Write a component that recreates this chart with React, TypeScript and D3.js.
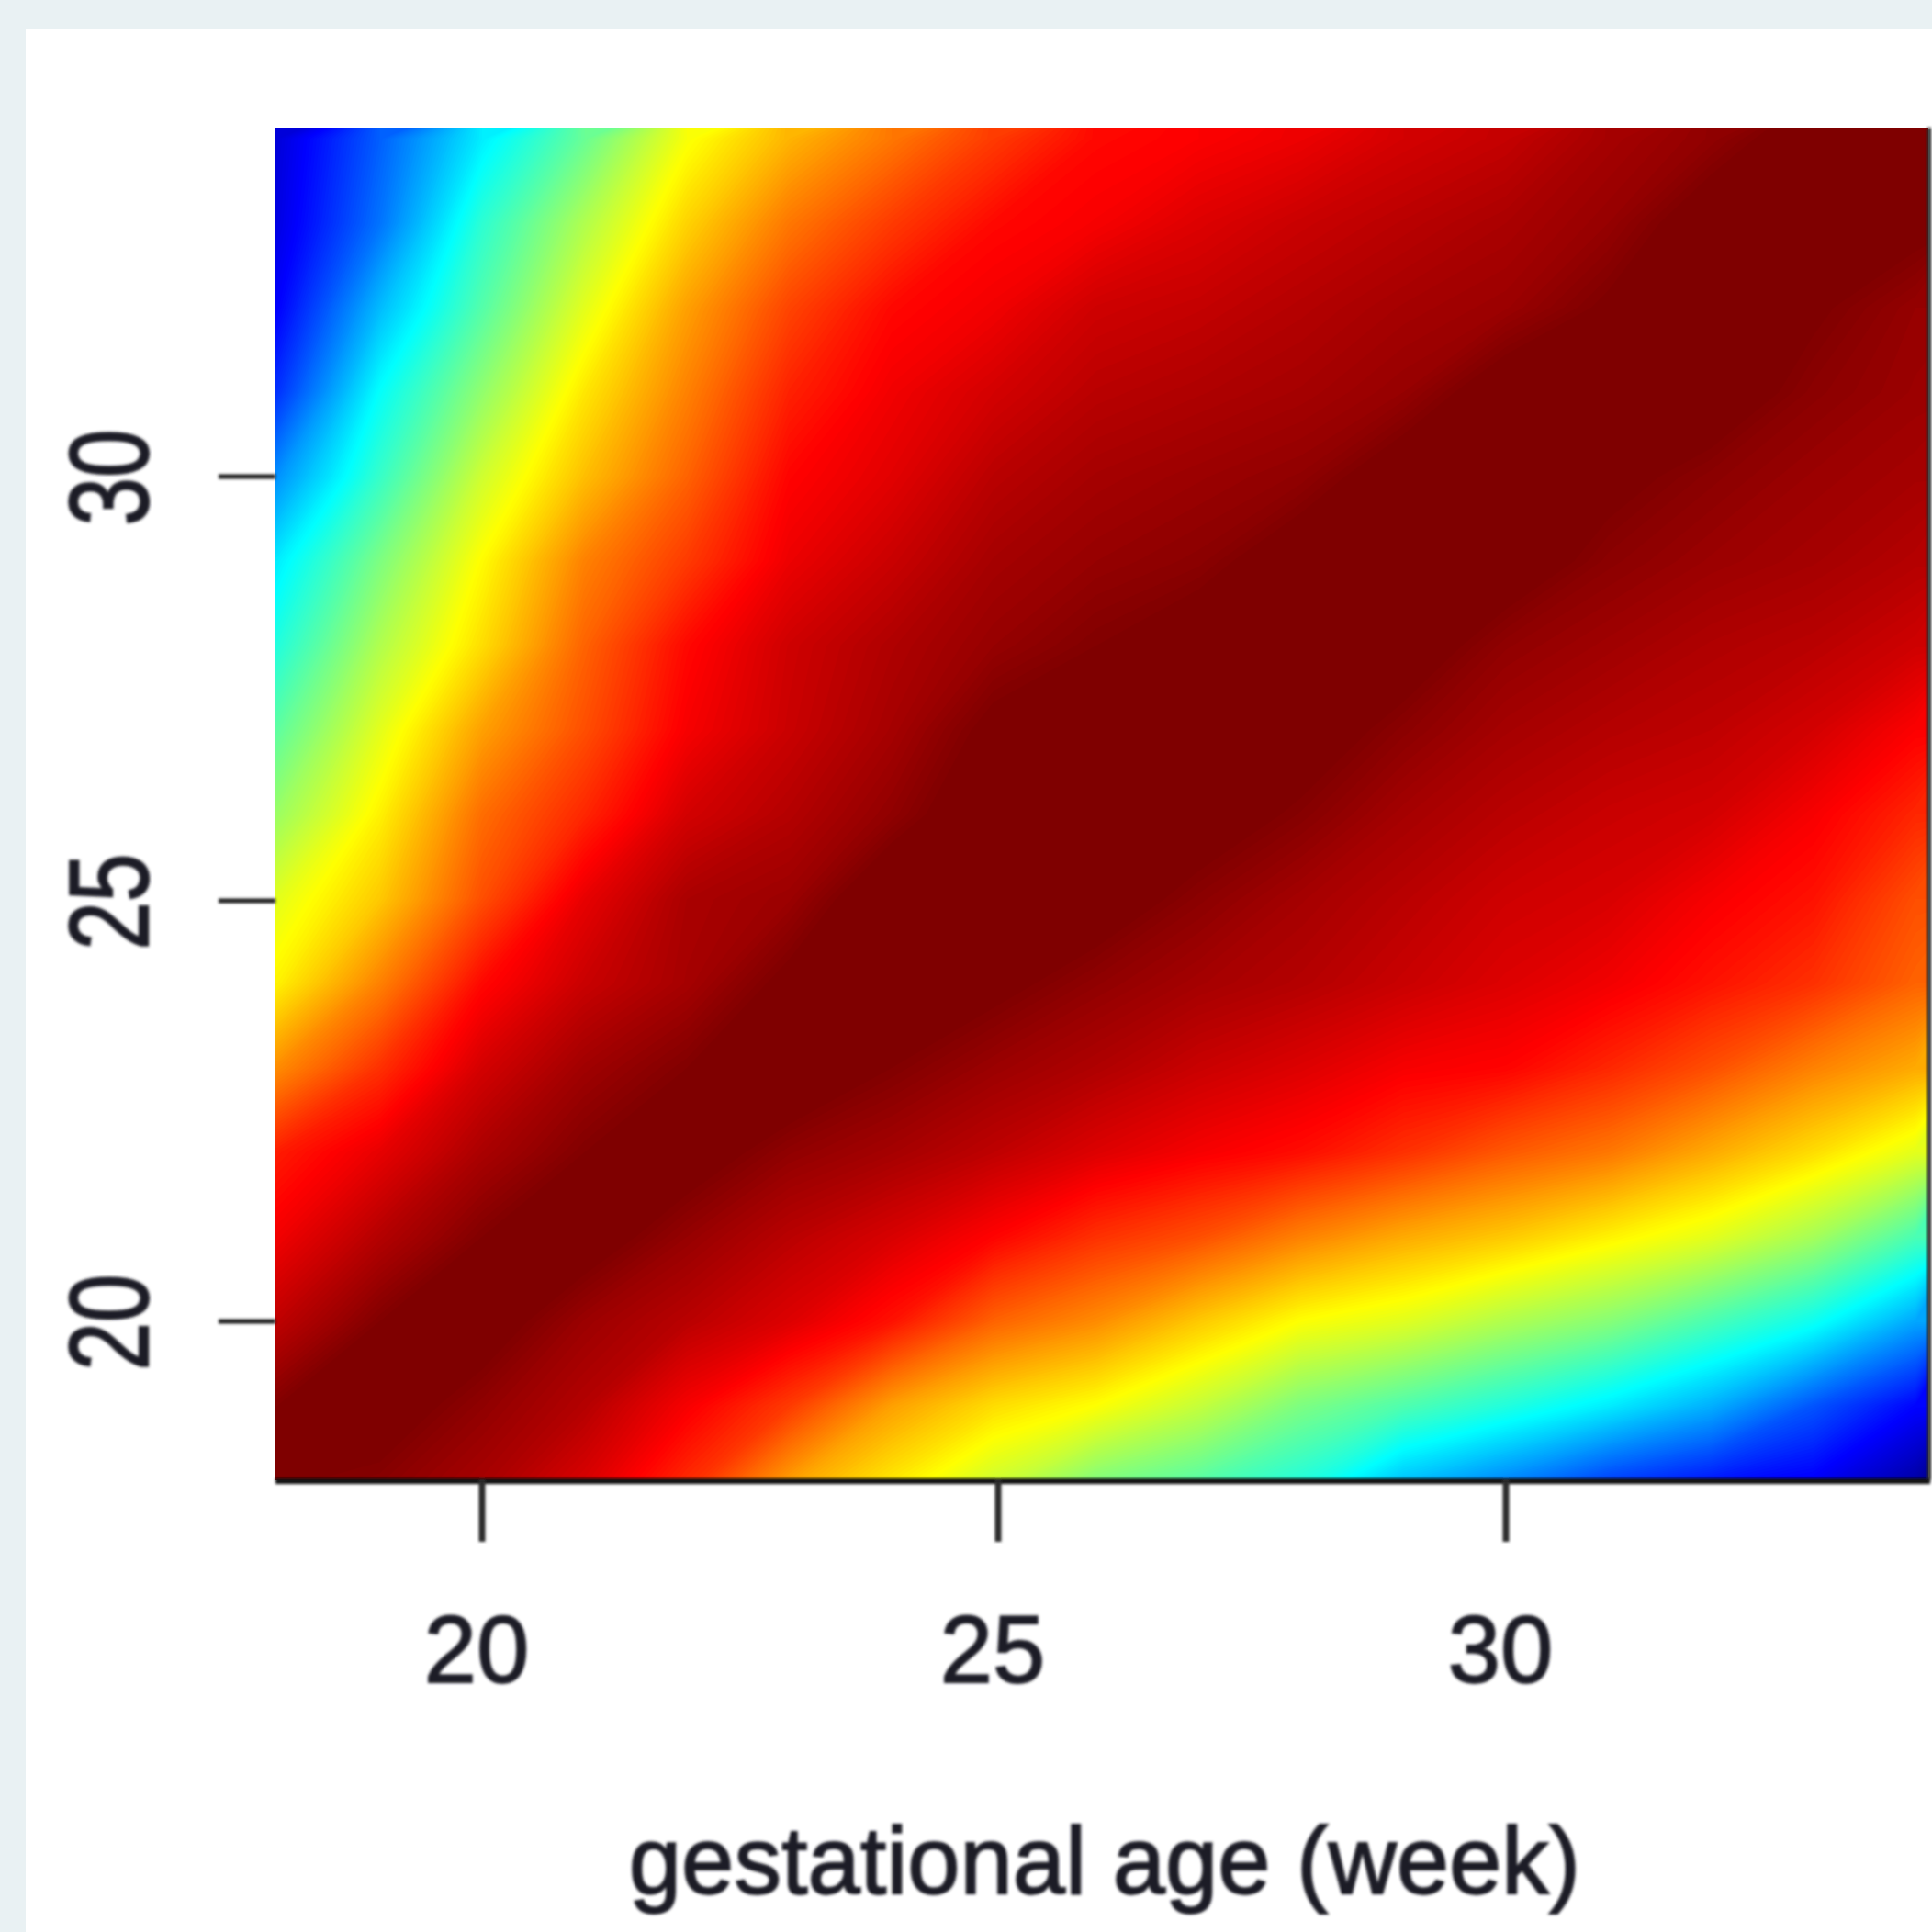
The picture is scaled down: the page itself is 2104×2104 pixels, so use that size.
import React from 'react';
import * as d3 from 'd3';

// values, as position on the colour ramp (0 = navy, 1 = dark red, above 1 stays dark red)
const weeks = [18, 19, 20, 21, 22, 23, 24, 25, 26, 27, 28, 29, 30, 31, 32, 33, 34];
const week34 = [.09, .22, .36, .48, .62, .70, .76, .82, .87, .88, .895, .92, .935, .965, .985, 1.02, 1.01];
const week33 = [.10, .24, .42, .55, .67, .76, .82, .87, .885, .91, .93, .945, .96, .98, 1.02, 1.02, 1.01];
const week32 = [.125, .31, .46, .60, .72, .81, .87, .89, .925, .935, .95, .965, .975, 1.005, 1.02, 1.005, .98];
const week31 = [.175, .38, .52, .65, .75, .845, .89, .92, .945, .955, .965, .98, 1.02, 1.02, 1.02, .99, .975];
const week30 = [.27, .43, .58, .69, .78, .875, .905, .945, .965, .975, .985, 1.02, 1.02, 1.01, .99, .975, .965];
const week29 = [.36, .50, .63, .75, .82, .895, .93, .965, .98, .99, 1.02, 1.02, 1.02, .99, .975, .965, .95];
const week28 = [.41, .55, .66, .78, .87, .925, .955, .98, 1.0, 1.02, 1.02, 1.02, .985, .97, .955, .945, .925];
const week27 = [.47, .60, .72, .80, .885, .93, .965, 1.01, 1.02, 1.02, 1.02, .99, .965, .95, .94, .92, .88];
const week26 = [.53, .64, .77, .84, .92, .95, .985, 1.03, 1.02, 1.02, .995, .965, .945, .93, .92, .885, .84];
const week25 = [.60, .68, .80, .90, .96, .975, 1.03, 1.03, 1.02, .99, .965, .945, .925, .915, .885, .86, .80];
const week24 = [.64, .75, .87, .93, .965, 1.01, 1.04, 1.01, .985, .965, .95, .93, .91, .89, .86, .83, .78];
const week23 = [.74, .83, .92, .97, 1.0, 1.03, 1.0, .975, .955, .93, .91, .885, .875, .84, .80, .75, .71];
const week22 = [.85, .90, .96, 1.0, 1.02, .985, .965, .94, .91, .885, .865, .83, .79, .76, .71, .66, .60];
const week21 = [.89, .95, 1.0, 1.02, .98, .945, .915, .875, .83, .80, .75, .71, .68, .64, .60, .54, .45];
const week20 = [.94, 1.0, 1.02, .975, .945, .91, .86, .78, .74, .68, .625, .597, .55, .51, .45, .39, .29];
const week19 = [1.0, 1.02, .985, .95, .885, .82, .72, .66, .625, .57, .50, .455, .41, .36, .30, .21, .13];
const week18 = [1.0, .99, .96, .91, .83, .71, .64, .57, .49, .45, .40, .30, .24, .17, .13, .11, .03];

const tickValues = [20, 25, 30];
const xTitle = 'gestational age (week)';
const rampColors = ['#00007F', '#0000FF', '#007FFF', '#00FFFF', '#7FFF7F', '#FFFF00', '#FF7F00', '#FF0000', '#7F0000'];

const rows = [week34, week33, week32, week31, week30, week29, week28, week27, week26, week25,
  week24, week23, week22, week21, week20, week19, week18];

const plot = { left: 300, right: 2100, top: 139, bottom: 1612 };
const font = '"Liberation Sans", Arial, sans-serif';
const ink = '#1e1e26';

export default function App() {
  const x = d3.scaleLinear().domain([20, 30]).range([525, 1640]);
  const y = d3.scaleLinear().domain([20, 30]).range([1439, 519]);
  // the ticks in the picture are not quite evenly spaced
  const xTick = d3.scaleLinear().domain([20, 25, 30]).range([525, 1087, 1640]);
  const yTick = d3.scaleLinear().domain([20, 25, 30]).range([1439, 981, 519]);
  const jet = d3.scaleLinear<string>()
    .domain(d3.range(rampColors.length).map(i => i / (rampColors.length - 1)))
    .range(rampColors)
    .interpolate(d3.interpolateRgb);

  const n = weeks.length;
  const levels = d3.range(0, 1.0001, 0.004);
  const bands = d3.contours().size([n, n]).thresholds(levels)(rows.flat());

  // contour grid has its values at i + 0.5
  const project = d3.geoTransform({
    point(gx: number, gy: number) {
      this.stream.point(x(weeks[0] + gx - 0.5), y(weeks[n - 1] - (gy - 0.5)));
    },
  });
  const path = d3.geoPath(project);

  return (
    <svg width={2104} height={2104} style={{ position: 'absolute', left: 0, top: 0, display: 'block' }}>
      <defs>
        <clipPath id="plot-clip">
          <rect x={plot.left} y={plot.top} width={plot.right - plot.left} height={plot.bottom - plot.top} />
        </clipPath>
        <filter id="soft" x="-5%" y="-5%" width="110%" height="110%">
          <feGaussianBlur stdDeviation="1.6" />
        </filter>
      </defs>
      <rect width={2104} height={2104} fill="#e9f1f3" />
      <rect x={28} y={32} width={2076} height={2072} fill="#ffffff" />

      <g clipPath="url(#plot-clip)">
        <rect x={plot.left} y={plot.top} width={plot.right - plot.left} height={plot.bottom - plot.top} fill={jet(0)} />
        {bands.map((b, i) => (
          <path key={i} d={path(b as any) || ''} fill={jet(b.value)} />
        ))}
      </g>

      <g filter="url(#soft)" fill={ink} stroke={ink} strokeWidth={1.8} fontFamily={font}>
        <line x1={plot.left} x2={plot.right + 2} y1={plot.bottom + 1} y2={plot.bottom + 1} stroke="#0c0c0c" strokeWidth={6} />
        <line x1={plot.right + 1} x2={plot.right + 1} y1={plot.top} y2={plot.bottom} stroke="#222" strokeWidth={4} />
        {tickValues.map(t => (
          <g key={t}>
            <line x1={xTick(t)} x2={xTick(t)} y1={plot.bottom} y2={1679} stroke="#2b2b2b" strokeWidth={7} />
            <text x={xTick(t) - 6} y={1832} fontSize={103} textAnchor="middle">{t}</text>
            <line x1={238} x2={plot.left} y1={yTick(t)} y2={yTick(t)} stroke="#1a1a1a" strokeWidth={5} />
            <text
              transform={`translate(161,${yTick(t) + 1}) rotate(-90) scale(0.92,1.18)`}
              fontSize={103}
              textAnchor="middle"
            >
              {t}
            </text>
          </g>
        ))}
        <text x={1203} y={2062} fontSize={103} textAnchor="middle">{xTitle}</text>
      </g>
    </svg>
  );
}
